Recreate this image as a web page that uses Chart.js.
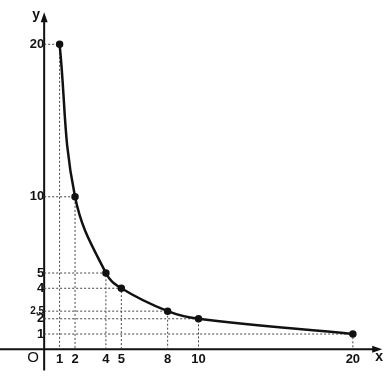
<!DOCTYPE html>
<html>
<head>
<meta charset="utf-8">
<script src="https://cdn.jsdelivr.net/npm/chart.js@4.4.0/dist/chart.umd.min.js"></script>
<style>
  html, body { margin: 0; padding: 0; background: #fff; }
</style>
</head>
<body>
<canvas id="myChart" width="389" height="378"></canvas>
<script>
const xValues = [1, 2, 4, 5, 8, 10, 20];
const yValues = [20, 10, 5, 4, 2.5, 2, 1];
const xTicks = [1, 2, 4, 5, 8, 10, 20];
const yTicks = [1, 2, 2.5, 4, 5, 10, 20];

const curve = xValues.map((x, i) => ({ x: x, y: yValues[i] }));

// dotted guides: y axis -> point -> x axis
let guides = xValues.map((x, i) => ({
  data: [{ x: 0, y: yValues[i] }, { x: x, y: yValues[i] }, { x: x, y: 0 }],
  showLine: true,
  borderColor: "#444",
  borderWidth: 1,
  borderDash: [2, 2],
  pointRadius: 0,
  tension: 0,
  order: 2,
}));

const labelFont = (ctx) => ({
  family: "'Liberation Sans', Arial, sans-serif",
  size: ctx.tick && ctx.tick.value === 2.5 ? 10 : 13,
  weight: "bold",
});

// axis lines with arrows, plus O / x / y letters
const axesPlugin = {
  id: "axes",
  beforeDatasetsDraw(chart) {
    const { ctx, scales: { x, y } } = chart;
    const x0 = x.getPixelForValue(0);
    const y0 = y.getPixelForValue(0);
    const xEnd = x.getPixelForValue(21.9);
    const yEnd = y.getPixelForValue(22.1);
    ctx.save();
    ctx.strokeStyle = "#111";
    ctx.fillStyle = "#111";
    ctx.lineWidth = 2;
    ctx.beginPath();
    ctx.moveTo(0, y0);
    ctx.lineTo(xEnd - 4, y0);
    ctx.moveTo(x0, y.getPixelForValue(-1.4));
    ctx.lineTo(x0, yEnd + 4);
    ctx.stroke();

    ctx.beginPath();
    ctx.moveTo(xEnd, y0);
    ctx.lineTo(xEnd - 10, y0 - 3.5);
    ctx.lineTo(xEnd - 10, y0 + 3.5);
    ctx.closePath();
    ctx.fill();
    ctx.beginPath();
    ctx.moveTo(x0, yEnd);
    ctx.lineTo(x0 - 3.5, yEnd + 10);
    ctx.lineTo(x0 + 3.5, yEnd + 10);
    ctx.closePath();
    ctx.fill();

    ctx.textAlign = "center";
    ctx.textBaseline = "middle";
    ctx.font = "15px 'Liberation Sans', Arial, sans-serif";
    ctx.fillText("O", x0 - 11, y0 + 9);
    ctx.font = "bold 14px 'Liberation Sans', Arial, sans-serif";
    ctx.fillText("x", xEnd - 3, y0 + 8);
    ctx.fillText("y", x0 - 8, yEnd + 3);
    ctx.restore();
  },
};

const myChart = document.getElementById("myChart");

let chart = new Chart(myChart, {
  type: "scatter",
  data: {
    datasets: [
      {
        data: curve,
        showLine: true,
        tension: 0.4,
        borderColor: "#111",
        borderWidth: 2.5,
        pointRadius: 2.5,
        pointBackgroundColor: "#111",
        pointBorderColor: "#111",
        order: 1,
      },
      ...guides,
    ],
  },
  options: {
    responsive: false,
    animation: false,
    layout: { padding: 0 },
    plugins: {
      legend: { display: false },
      tooltip: { enabled: false },
    },
    scales: {
      x: {
        type: "linear",
        min: -2.44,
        max: 21.92,
        position: { y: 0 },
        grid: { display: false, drawTicks: false },
        border: { display: false },
        afterBuildTicks: (scale) => {
          scale.ticks = xTicks.map((v) => ({ value: v }));
        },
        ticks: {
          color: "#111",
          font: labelFont,
          padding: 2,
          autoSkip: false,
          maxRotation: 0,
        },
      },
      y: {
        type: "linear",
        min: -1.11,
        max: 22.13,
        position: { x: 0 },
        grid: { display: false, drawTicks: false },
        border: { display: false },
        afterBuildTicks: (scale) => {
          scale.ticks = yTicks.map((v) => ({ value: v }));
        },
        ticks: {
          color: "#111",
          font: labelFont,
          padding: 4,
          autoSkip: false,
          callback: (value) => String(value).replace(".", ","),
        },
      },
    },
  },
  plugins: [axesPlugin],
});
</script>
</body>
</html>
